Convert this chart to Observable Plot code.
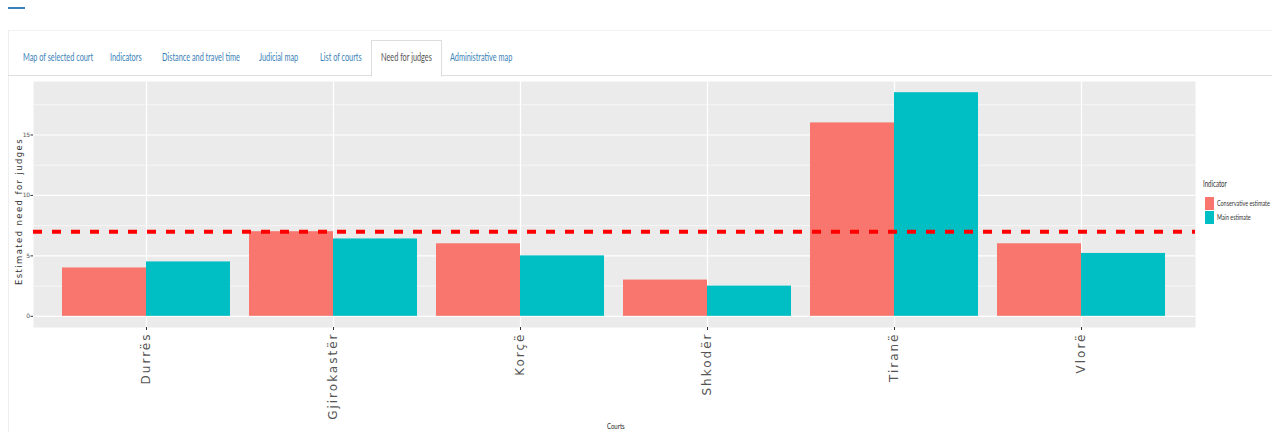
<!DOCTYPE html>
<html><head><meta charset="utf-8">
<script src="https://cdn.jsdelivr.net/npm/d3@7"></script>
<script src="https://cdn.jsdelivr.net/npm/@observablehq/plot@0.6"></script>
<style>
body{margin:0;background:#fff;font-family:Lato,"Noto Sans",sans-serif;}
#wrap{position:relative;width:1272px;height:432px;overflow:hidden;background:#fff;}
#chart{position:absolute;left:0;top:0;}
.abs{position:absolute;white-space:nowrap;}
.tab{position:absolute;top:50px;font-size:11px;line-height:14px;color:#3a7fb8;transform-origin:0 50%;transform:scaleX(0.665);white-space:nowrap;}
.tab.active{color:#555;}
.leg{position:absolute;font-size:7px;line-height:9px;color:#333;transform-origin:0 50%;white-space:nowrap;}
g[aria-label="x-axis tick label"] text{letter-spacing:2px;}
g[aria-label="y-axis tick label"] text{letter-spacing:-0.5px;}
g[aria-label="text"] text{letter-spacing:1.4px;}
</style></head><body>
<div id="wrap">
  <div class="abs" style="left:8px;top:7px;width:17px;height:2px;background:#3a7fb8;"></div>
  <div class="abs" style="left:8px;top:30px;width:1264px;height:1px;background:#f2f2f2;"></div>
  <div class="abs" style="left:8px;top:30px;width:1px;height:402px;background:#eee;"></div>
  <div class="abs" style="left:8px;top:75px;width:1264px;height:1px;background:#ddd;"></div>
  <div class="abs" style="left:371px;top:40px;width:69px;height:35px;border:1px solid #ddd;border-bottom:1px solid #fff;background:#fff;"></div>
  <div id="tabs"></div>
  <div id="chart"></div>
  <div id="legend"></div>
  <div class="leg" id="xlab" style="left:607px;top:422px;font-size:8px;color:#222;">Courts</div>
</div>
<script>
const courts = ["Durrës", "Gjirokastër", "Korçë", "Shkodër", "Tiranë", "Vlorë"];
const indicators = ["Conservative estimate", "Main estimate"];
const conservativeValues = [4, 7, 6, 3, 16, 6];
const mainValues = [4.5, 6.4, 5, 2.5, 18.5, 5.2];
const yTicks = [0, 5, 10, 15];
const yMinorTicks = [2.5, 7.5, 12.5, 17.5];
const threshold = 7;
const colors = ["#F8766D", "#00BFC4"];
const tabLabels = ["Map of selected court", "Indicators", "Distance and travel time", "Judicial map", "List of courts", "Need for judges", "Administrative map"];
const tabLeft = [23, 110, 162, 259, 320, 381, 450];

const rows = courts.flatMap((c, i) => [
  {court: c, indicator: indicators[0], value: conservativeValues[i]},
  {court: c, indicator: indicators[1], value: mainValues[i]}
]);

function build(half) {
  return Plot.plot({
    width: 1272, height: 432,
    marginLeft: 33, marginRight: 77, marginTop: 81, marginBottom: 105,
    style: {background: "transparent", color: "#555", fontFamily: "'DejaVu Sans', sans-serif"},
    x: {domain: courts, paddingInner: 0.1, paddingOuter: 0.15, label: null},
    y: {domain: [-0.925, 19.425], label: null},
    color: {domain: indicators, range: colors},
    marks: [
      Plot.frame({fill: "#EBEBEB", stroke: null}),
      Plot.ruleY(yMinorTicks, {stroke: "#fff", strokeWidth: 0.6}),
      Plot.ruleY(yTicks, {stroke: "#fff", strokeWidth: 1.2}),
      Plot.ruleX(courts, {x: d => d, stroke: "#fff", strokeWidth: 1.2}),
      Plot.barY(rows.filter(d => d.indicator === indicators[0]), {x: "court", y: "value", fill: "indicator", insetLeft: 0, insetRight: half}),
      Plot.barY(rows.filter(d => d.indicator === indicators[1]), {x: "court", y: "value", fill: "indicator", insetLeft: half, insetRight: 0}),
      Plot.ruleY([threshold], {stroke: "#FF0000", strokeWidth: 4, strokeDasharray: "9,10"}),
      Plot.axisY({ticks: yTicks, tickSize: 2.5, tickPadding: 1.5, fontSize: 6, label: null, stroke: "#333"}),
      Plot.axisX({tickRotate: -90, tickSize: 3, tickPadding: 2, fontSize: 12, label: null, stroke: "#333"}),
      Plot.text(["Estimated need for judges"], {text: d => d, frameAnchor: "left", textAnchor: "middle", rotate: -90, dx: -14, dy: 7, fontSize: 8.5, fill: "#333"})
    ]
  });
}

const probe = build(0);
const bw = probe.scale("x").bandwidth;
const chart = build(bw / 2);
document.getElementById("chart").appendChild(chart);

// tabs
const tabs = document.getElementById("tabs");
tabLabels.forEach((t, i) => {
  const s = document.createElement("span");
  s.className = "tab" + (t === "Need for judges" ? " active" : "");
  s.textContent = t;
  s.style.left = tabLeft[i] + "px";
  tabs.appendChild(s);
});

// legend
const legend = document.getElementById("legend");
function addText(txt, left, top, size, scale) {
  const s = document.createElement("div");
  s.className = "leg";
  s.textContent = txt;
  s.style.left = left + "px";
  s.style.top = top + "px";
  s.style.fontSize = size + "px";
  s.style.transform = `scaleX(${scale})`;
  legend.appendChild(s);
}
addText("Indicator", 1203, 180, 8.5, 0.72);
indicators.forEach((ind, i) => {
  const k = document.createElement("div");
  k.className = "abs";
  k.style.left = "1205px";
  k.style.top = (197 + i * 14) + "px";
  k.style.width = "9px";
  k.style.height = "13px";
  k.style.background = colors[i];
  legend.appendChild(k);
  addText(ind, 1217, 199 + i * 14, 7.5, 0.72);
});
document.getElementById("xlab").style.transform = "scaleX(0.75)";
</script>
</body></html>
